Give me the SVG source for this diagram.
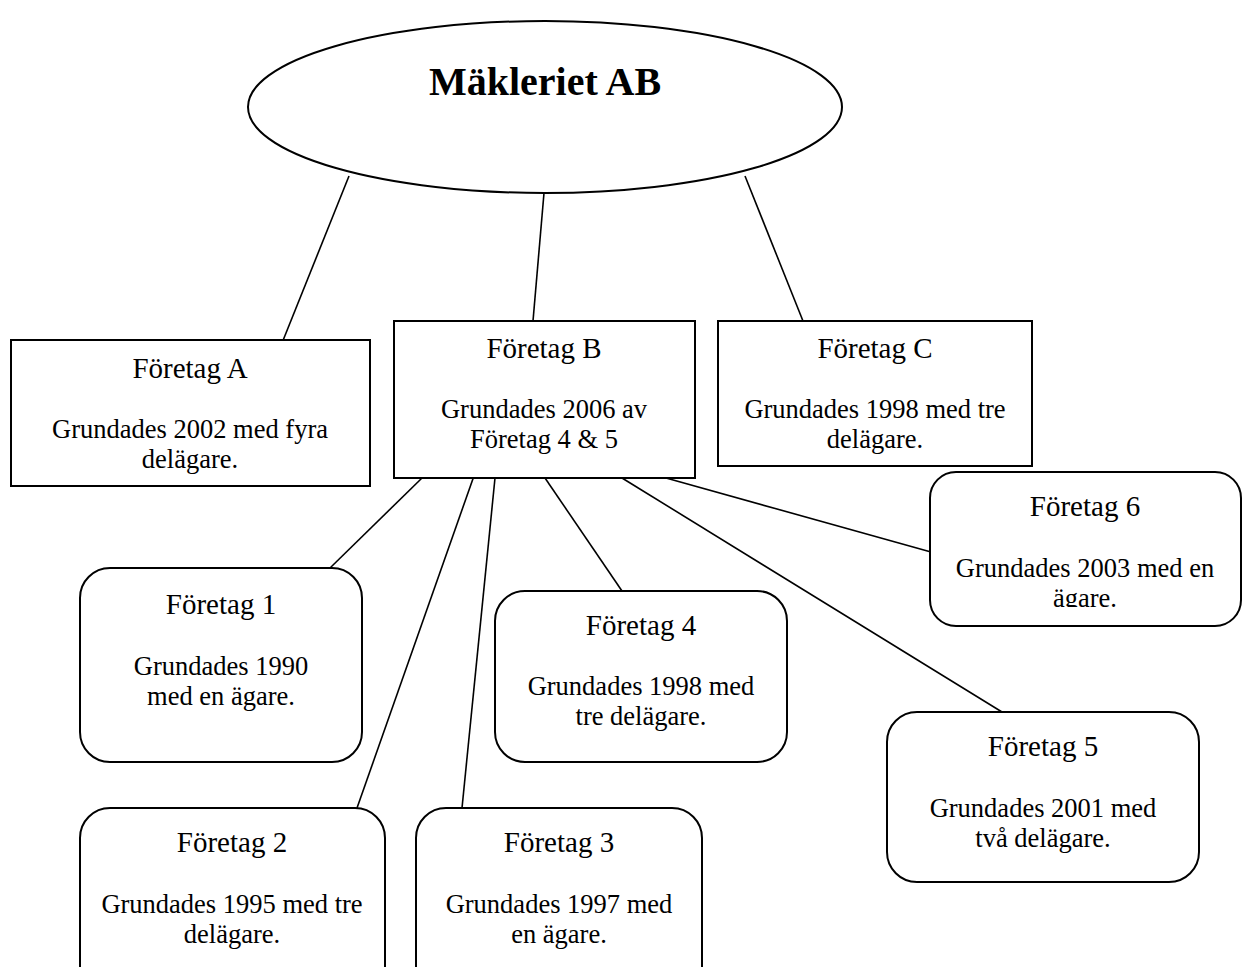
<svg xmlns="http://www.w3.org/2000/svg" width="1243" height="967" viewBox="0 0 1243 967">
<style>
.box{fill:#fff;stroke:#000;stroke-width:2}
.ln{stroke:#000;stroke-width:1.6;fill:none}
.t{font-family:"Liberation Serif","Times New Roman",serif;font-size:29px;text-anchor:middle;fill:#000}
.b{font-family:"Liberation Serif","Times New Roman",serif;font-size:26.5px;text-anchor:middle;fill:#000}
.h{font-family:"Liberation Serif","Times New Roman",serif;font-size:40px;font-weight:bold;text-anchor:middle;fill:#000}
</style>
<defs>
<clipPath id="clip6"><rect x="930" y="472" width="313" height="135"/></clipPath>
</defs>
<rect width="1243" height="967" fill="#fff"/>
<g id="connectors">
<line class="ln" x1="349" y1="176" x2="282" y2="343"/>
<line class="ln" x1="544" y1="193" x2="533" y2="321"/>
<line class="ln" x1="745" y1="176" x2="803" y2="321"/>
<line class="ln" x1="422" y1="478" x2="330" y2="568"/>
<line class="ln" x1="475" y1="473" x2="357" y2="808"/>
<line class="ln" x1="495" y1="478" x2="462" y2="808"/>
<line class="ln" x1="545" y1="478" x2="622" y2="591"/>
<line class="ln" x1="622" y1="478" x2="1002" y2="712"/>
<line class="ln" x1="666" y1="478" x2="931" y2="552"/>
</g>
<g id="root">
<ellipse class="box" cx="545" cy="107" rx="297" ry="86"/>
<text class="h" x="545" y="95">Mäkleriet AB</text>
</g>
<g id="foretagA">
<rect class="box" x="11" y="340" width="359" height="146"/>
<text class="t" x="190" y="378">Företag A</text>
<text class="b" x="190" y="438">Grundades 2002 med fyra</text>
<text class="b" x="190" y="468">delägare.</text>
</g>
<g id="foretagB">
<rect class="box" x="394" y="321" width="301" height="157"/>
<text class="t" x="544" y="358">Företag B</text>
<text class="b" x="544" y="418">Grundades 2006 av</text>
<text class="b" x="544" y="448">Företag 4 &amp; 5</text>
</g>
<g id="foretagC">
<rect class="box" x="718" y="321" width="314" height="145"/>
<text class="t" x="875" y="358">Företag C</text>
<text class="b" x="875" y="418">Grundades 1998 med tre</text>
<text class="b" x="875" y="448">delägare.</text>
</g>
<g id="foretag1">
<rect class="box" x="80" y="568" width="282" height="194" rx="30"/>
<text class="t" x="221" y="614">Företag 1</text>
<text class="b" x="221" y="675">Grundades 1990</text>
<text class="b" x="221" y="705">med en ägare.</text>
</g>
<g id="foretag4">
<rect class="box" x="495" y="591" width="292" height="171" rx="30"/>
<text class="t" x="641" y="635">Företag 4</text>
<text class="b" x="641" y="695">Grundades 1998 med</text>
<text class="b" x="641" y="725">tre delägare.</text>
</g>
<g id="foretag6">
<rect class="box" x="930" y="472" width="311" height="154" rx="26"/>
<text class="t" x="1085" y="516">Företag 6</text>
<text class="b" x="1085" y="577">Grundades 2003 med en</text>
<text class="b" x="1085" y="607" clip-path="url(#clip6)">ägare.</text>
</g>
<g id="foretag5">
<rect class="box" x="887" y="712" width="312" height="170" rx="30"/>
<text class="t" x="1043" y="756">Företag 5</text>
<text class="b" x="1043" y="817">Grundades 2001 med</text>
<text class="b" x="1043" y="847">två delägare.</text>
</g>
<g id="foretag2">
<rect class="box" x="80" y="808" width="305" height="190" rx="30"/>
<text class="t" x="232" y="852">Företag 2</text>
<text class="b" x="232" y="913">Grundades 1995 med tre</text>
<text class="b" x="232" y="943">delägare.</text>
</g>
<g id="foretag3">
<rect class="box" x="416" y="808" width="286" height="190" rx="30"/>
<text class="t" x="559" y="852">Företag 3</text>
<text class="b" x="559" y="913">Grundades 1997 med</text>
<text class="b" x="559" y="943">en ägare.</text>
</g>
</svg>
